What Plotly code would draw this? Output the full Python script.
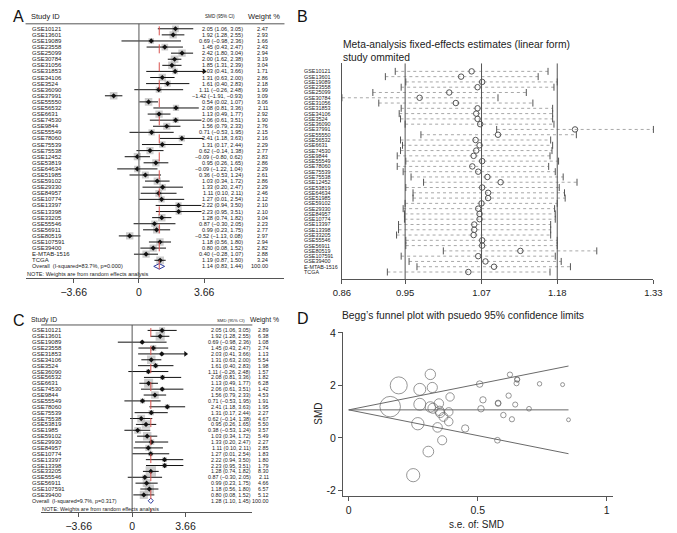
import plotly.graph_objects as go
import math

W, H = 677, 533
FONT = "Liberation Sans, Arial, sans-serif"
TXT = "#222222"

# ---------------- Panel A: random-effects forest plot (39 studies) ----------------
a_studies = ["GSE10121", "GSE13601", "GSE19089", "GSE23558", "GSE25099", "GSE30784", "GSE31056",
             "GSE31853", "GSE34106", "GSE3524", "GSE36090", "GSE37991", "GSE55550", "GSE56532",
             "GSE6631", "GSE74530", "GSE9844", "GSE55549", "GSE78060", "GSE75539", "GSE75538",
             "GSE12452", "GSE53819", "GSE64634", "GSE51985", "GSE59102", "GSE29330", "GSE84957",
             "GSE10774", "GSE13397", "GSE13398", "GSE33205", "GSE55546", "GSE56911", "GSE80519",
             "GSE107591", "GSE39400", "E-MTAB-1516", "TCGA"]
a_smd = [2.05, 1.92, 0.69, 1.45, 2.42, 2.00, 1.85, 2.03, 1.31, 1.61, 1.11, -1.42, 0.54, 2.08,
         1.13, 2.06, 1.56, 0.71, 2.41, 1.31, 0.62, -0.09, 0.95, -0.09, 0.36, 1.03, 1.33, 1.11,
         1.27, 2.22, 2.23, 1.28, 0.87, 0.99, -0.52, 1.18, 0.80, 0.40, 1.19]
a_lo = [1.06, 1.28, -0.98, 0.43, 1.80, 1.62, 1.31, 0.41, 0.63, 0.40, -0.26, -1.91, 0.02, 0.81,
        0.49, 0.61, 0.79, -0.53, 1.18, 0.17, -0.14, -0.80, 0.26, -1.22, -0.53, 0.34, 0.20, 0.10,
        0.01, 0.94, 0.95, 0.74, -0.30, 0.23, -1.13, 0.56, 0.08, -0.28, 0.87]
a_hi = [3.05, 2.55, 2.36, 2.47, 3.04, 2.38, 2.39, 3.66, 2.00, 2.83, 2.48, -0.93, 1.07, 3.36,
        1.77, 3.51, 2.33, 1.95, 3.63, 2.44, 1.38, 0.62, 1.65, 1.04, 1.24, 1.72, 2.47, 2.11,
        2.54, 3.50, 3.51, 1.82, 2.05, 1.75, 0.08, 1.80, 1.52, 1.07, 1.50]
a_wt = [2.47, 2.93, 1.66, 2.43, 2.94, 3.19, 3.04, 1.71, 2.86, 2.18, 1.99, 3.09, 3.06, 2.11,
        2.92, 1.90, 2.76, 2.15, 2.16, 2.29, 2.77, 2.83, 2.86, 2.29, 2.61, 2.86, 2.29, 2.46,
        2.12, 2.10, 2.10, 3.04, 2.23, 2.77, 2.97, 2.94, 2.82, 2.88, 3.24]
a_overall = [1.14, 0.83, 1.44]
a_overall_label = "Overall  (I-squared=83.7%, p=0.000)"

# ---------------- Panel B: influence analysis (study omitted) ----------------
b_est = [1.053, 1.037, 1.069, 1.062, 1.019, 0.974, 1.029, 1.062, 1.060, 1.062, 1.066, 1.210, 1.093,
         1.059, 1.065, 1.060, 1.056, 1.069, 1.054, 1.063, 1.077, 1.097, 1.069, 1.078, 1.078, 1.068,
         1.063, 1.065, 1.065, 1.057, 1.057, 1.056, 1.069, 1.069, 1.127, 1.063, 1.074, 1.087, 1.048]
b_lo = [0.937, 0.922, 0.953, 0.946, 0.903, 0.856, 0.912, 0.946, 0.943, 0.945, 0.952, 1.091, 0.976,
        0.945, 0.948, 0.945, 0.940, 0.953, 0.940, 0.949, 0.961, 0.980, 0.953, 0.964, 0.964, 0.952,
        0.949, 0.951, 0.951, 0.942, 0.942, 0.939, 0.953, 0.953, 1.010, 0.946, 0.958, 0.970, 0.925]
b_hi = [1.169, 1.154, 1.183, 1.178, 1.136, 1.093, 1.146, 1.176, 1.176, 1.176, 1.178, 1.329, 1.212,
        1.173, 1.176, 1.175, 1.172, 1.185, 1.170, 1.180, 1.192, 1.213, 1.186, 1.194, 1.195, 1.183,
        1.179, 1.180, 1.180, 1.173, 1.173, 1.173, 1.183, 1.183, 1.243, 1.180, 1.189, 1.203, 1.172]
b_fixed = [1.068, 0.952, 1.183]   # pooled fixed-effect estimate, lower, upper
b_title = "Meta-analysis fixed-effects estimates (linear form)<br>study ommited"

# ---------------- Panel C: forest plot after exclusions (29 studies) ----------------
c_studies = ["GSE10121", "GSE13601", "GSE19089", "GSE23558", "GSE31853", "GSE34106", "GSE3524",
             "GSE36090", "GSE56532", "GSE6631", "GSE74530", "GSE9844", "GSE55549", "GSE78060",
             "GSE75539", "GSE75538", "GSE53819", "GSE1985", "GSE59102", "GSE29930", "GSE84957",
             "GSE10774", "GSE13397", "GSE13398", "GSE33205", "GSE55546", "GSE56911", "GSE107591",
             "GSE39400"]
c_smd = [2.05, 1.92, 0.69, 1.45, 2.03, 1.31, 1.61, 1.11, 2.08, 1.13, 2.06, 1.56, 0.71, 2.41, 1.31,
         0.62, 0.95, 0.38, 1.03, 1.33, 1.11, 1.27, 2.22, 2.23, 1.28, 0.87, 0.99, 1.18, 0.80]
c_lo = [1.06, 1.28, -0.98, 0.43, 0.41, 0.63, 0.40, -0.26, 0.81, 0.49, 0.61, 0.79, -0.53, 1.18, 0.17,
        -0.14, 0.26, -0.53, 0.34, 0.20, 0.10, 0.01, 0.94, 0.95, 0.74, -0.30, 0.23, 0.56, 0.08]
c_hi = [3.05, 2.55, 2.36, 2.47, 3.66, 2.00, 2.83, 2.48, 3.36, 1.77, 3.51, 2.33, 1.95, 3.63, 2.44,
        1.38, 1.65, 1.24, 1.72, 2.47, 2.11, 2.54, 3.50, 3.51, 1.82, 2.05, 1.75, 1.80, 1.52]
c_wt = [2.89, 6.38, 1.08, 2.74, 1.13, 5.54, 1.98, 1.57, 1.82, 6.28, 1.42, 4.53, 1.91, 1.95, 2.27,
        4.67, 5.50, 3.57, 5.49, 2.27, 2.85, 1.83, 1.80, 1.79, 8.30, 2.11, 4.66, 6.57, 5.12]
c_overall = [1.28, 1.10, 1.45]
c_overall_label = "Overall  (I-squared=9.7%, p=0.317)"

note_text = "NOTE: Weights are from random effects analysis"

# ---------------- Panel D: Begg's funnel ----------------
d_title = "Begg\u2019s funnel plot with psuedo 95% confidence limits"
d_xticks = [0, 0.5, 1]
d_yticks = [-2, 0, 2, 4]

fig = go.Figure()
annotations = []
shapes = []


def xp(p):
    return p / W


def yp(p):
    return 1 - p / H


def ann(text, x, y, size, xanchor="left", yanchor="middle", xref="paper", yref="paper",
        color=TXT, angle=0):
    annotations.append(dict(text=text, x=x, y=y, xref=xref, yref=yref, xanchor=xanchor,
                            yanchor=yanchor, showarrow=False, textangle=angle, borderpad=0,
                            font=dict(size=size, color=color, family=FONT)))


def fmt(v):
    s = f"{v:.2f}"
    return s.replace("-", "\u2212")


def forest(ax, ay, studies, est, lo, hi, wt, overall, ov_label, g):
    xa, ya = ("x" + ax if ax else "x"), ("y" + ay if ay else "y")
    n = len(studies)
    rows = list(range(n))
    tmax = max(max(hi), -min(lo))
    # boxes
    fig.add_trace(go.Scatter(x=est, y=rows, mode="markers", xaxis=xa, yaxis=ya,
                             marker=dict(symbol="square", size=[g["box"] * math.sqrt(w) for w in wt],
                                         color="#b8b8b8", line=dict(width=0)),
                             hoverinfo="skip"))
    # CI lines
    lx, ly = [], []
    for r, l, h in zip(rows, lo, hi):
        lx += [max(l, -tmax), min(h, tmax), None]
        ly += [r, r, None]
    fig.add_trace(go.Scatter(x=lx, y=ly, mode="lines", xaxis=xa, yaxis=ya,
                             line=dict(color="#111111", width=1), hoverinfo="skip"))
    # arrows for truncated CIs
    ar = [(tmax, r) for r, h in zip(rows, hi) if h >= tmax]
    if ar:
        fig.add_trace(go.Scatter(x=[a[0] for a in ar], y=[a[1] for a in ar], mode="markers",
                                 xaxis=xa, yaxis=ya, cliponaxis=False,
                                 marker=dict(symbol="triangle-right", size=5, color="#111111"),
                                 hoverinfo="skip"))
    # point estimates
    fig.add_trace(go.Scatter(x=est, y=rows, mode="markers", xaxis=xa, yaxis=ya,
                             marker=dict(symbol="diamond", size=4, color="#111111"),
                             hoverinfo="skip"))
    # overall diamond
    oe, ol, oh = overall
    fig.add_trace(go.Scatter(x=[ol, oe, oh, oe, ol], y=[n, n - 0.45, n, n + 0.45, n],
                             mode="lines", fill="toself", fillcolor="white", xaxis=xa, yaxis=ya,
                             line=dict(color="#2b3a9e", width=1), hoverinfo="skip"))
    # reference lines
    shapes.append(dict(type="line", xref=xa, yref=ya + " domain", x0=0, x1=0, y0=0, y1=1,
                       line=dict(color="#555555", width=1)))
    shapes.append(dict(type="line", xref=xa, yref=ya, x0=oe, x1=oe, y0=-0.4, y1=g["rbot"],
                       line=dict(color="#d9534f", width=1, dash="dash")))
    # header line
    shapes.append(dict(type="line", xref="paper", yref="paper", x0=xp(g["left"]), x1=xp(g["right"]),
                       y0=yp(g["top"]), y1=yp(g["top"]), line=dict(color="#555555", width=1)))
    # texts
    for r in rows:
        ann(studies[r], xp(g["lab_x"]), r, g["fs"], yref=ya)
        ann(f"{fmt(est[r])} ({fmt(lo[r])}, {fmt(hi[r])})", xp(g["ci_x"]), r, g["fs2"], "right", yref=ya)
        ann(f"{wt[r]:.2f}", xp(g["wt_x"]), r, g["fs2"], "right", yref=ya)
    ann(ov_label, xp(g["lab_x"]), n, g["fs2"], yref=ya)
    ann(f"{fmt(oe)} ({fmt(ol)}, {fmt(oh)})", xp(g["ci_x"]), n, g["fs2"], "right", yref=ya)
    ann(f"{100:.2f}", xp(g["wt_x"]), n, g["fs2"], "right", yref=ya)
    ann(note_text, xp(g["note_x"]), n + g["note_dr"], g["fs2"], yref=ya)
    # headers
    ann(g["letter"], xp(g["letter_x"]), yp(g["head_y"]), 16, color="#111111")
    ann("Study ID", xp(g["lab_x"] - 1), yp(g["head_y"]), g["hfs"])
    ann("SMD (95% CI)", xp(g["smd_hx"]), yp(g["head_y"]), g["hfs_small"], "center")
    ann("Weight %", xp(g["wt_hx"]), yp(g["head_y"]), g["hfs"], "center")
    return tmax


# geometry (pixels)
gA = dict(zero=133.5, ppu=18.3, left=17, right=283, top=19, bot=276, row0=24, rowh=6.15,
          lab_x=23, ci_x=241, wt_x=267.5, note_x=17, note_dr=1.3, fs=6, fs2=5.6, hfs=7.5,
          hfs_small=4.6, smd_hx=217, wt_hx=262, head_y=12, letter="A", letter_x=3, box=4.3)
gC = dict(zero=126.5, ppu=15.0, left=33, right=250, top=323, bot=512, row0=328.5, rowh=5.93,
          lab_x=23, ci_x=250, wt_x=268, note_x=33, note_dr=1.35, fs=6, fs2=5.4, hfs=6.8,
          hfs_small=4.3, smd_hx=228, wt_hx=262, head_y=318, letter="C", letter_x=3, box=3.6)
for g in (gA, gC):
    g["rbot"] = (g["bot"] - g["row0"]) / g["rowh"]
    g["rtop"] = (g["top"] - g["row0"]) / g["rowh"]

tA = forest("", "", a_studies, a_smd, a_lo, a_hi, a_wt, a_overall, a_overall_label, gA)
tC = forest("3", "3", c_studies, c_smd, c_lo, c_hi, c_wt, c_overall, c_overall_label, gC)


def forest_axes(g, t):
    xax = dict(domain=[xp(g["left"]), xp(g["right"])],
               range=[(g["left"] - g["zero"]) / g["ppu"], (g["right"] - g["zero"]) / g["ppu"]],
               showline=True, linecolor="#555555", linewidth=1, ticks="outside", ticklen=4,
               tickcolor="#555555", tickvals=[-t, 0, t], ticktext=[fmt(-t), "0", fmt(t)],
               tickfont=dict(size=10.5, color=TXT, family=FONT), showgrid=False, zeroline=False,
               fixedrange=True)
    yax = dict(domain=[yp(g["bot"]), yp(g["top"])], range=[g["rbot"], g["rtop"]], visible=False,
               showgrid=False, zeroline=False, fixedrange=True)
    return xax, yax


xA, yA = forest_axes(gA, tA)
xC, yC = forest_axes(gC, tC)
xA["anchor"] = "y"
yA["anchor"] = "x"
xC["anchor"] = "y3"
yC["anchor"] = "x3"

# ---------------- Panel B drawing ----------------
B_LEFT, B_RIGHT, B_TOP, B_BOT, B_ROW0, B_ROWH = 342, 662, 59, 277, 67, 5.33
nb = len(b_est)
b_rows = list(range(nb))
b_rbot = (B_BOT - B_ROW0) / B_ROWH
b_rtop = (B_TOP - B_ROW0) / B_ROWH
wx, wy = [], []
for r, l, h in zip(b_rows, b_lo, b_hi):
    wx += [l, h, None]
    wy += [r, r, None]
fig.add_trace(go.Scatter(x=wx, y=wy, mode="lines", xaxis="x2", yaxis="y2", cliponaxis=False,
                         line=dict(color="#a8a8a8", width=1, dash="dot"), hoverinfo="skip"))
fig.add_trace(go.Scatter(x=b_lo + b_hi, y=b_rows + b_rows, mode="markers", xaxis="x2", yaxis="y2",
                         cliponaxis=False,
                         marker=dict(symbol="line-ns", size=5, line=dict(color="#555555", width=1)),
                         hoverinfo="skip"))
fig.add_trace(go.Scatter(x=b_est, y=b_rows, mode="markers", xaxis="x2", yaxis="y2", cliponaxis=False,
                         marker=dict(symbol="circle-open", size=5.5, color="#555555",
                                     line=dict(width=1)), hoverinfo="skip"))
for v in b_fixed:
    shapes.append(dict(type="line", xref="x2", yref="y2 domain", x0=v, x1=v, y0=0, y1=1,
                       line=dict(color="#555555", width=1)))
b_ticks = [min(b_lo), b_fixed[1], b_fixed[0], b_fixed[2], max(b_hi)]
xB = dict(domain=[xp(B_LEFT), xp(B_RIGHT)], range=[min(b_lo), max(b_hi)], anchor="y2",
          showline=True, linecolor="#555555", linewidth=1, ticks="outside", ticklen=4,
          tickcolor="#555555", tickvals=b_ticks, ticktext=[f"{v:.2f}" for v in b_ticks],
          tickfont=dict(size=9.5, color=TXT, family=FONT), showgrid=False, zeroline=False,
          fixedrange=True)
yB = dict(domain=[yp(B_BOT), yp(B_TOP)], range=[b_rbot, b_rtop], anchor="x2", showline=True,
          linecolor="#555555", linewidth=1, showticklabels=False, ticks="", showgrid=False,
          zeroline=False, fixedrange=True)
ann("B", xp(295), yp(12), 16, color="#111111")
ann(b_title, xp(342), yp(33), 10.3, yanchor="top")
annotations[-1]["align"] = "left"
for r, s in zip(b_rows, a_studies):
    ann(s, xp(302), r, 5.4, yref="y2")

# ---------------- Panel D drawing ----------------
D_LEFT, D_RIGHT, D_TOP, D_BOT = 343, 620, 330, 496
D_X0, D_XPPU, D_Y0, D_YPPU = 349, 265, 437, 26.5
d_se = [(h - l) / 3.92 for l, h in zip(a_lo, a_hi)]
pooled = b_fixed[0]
se_max = max(d_se)
fig.add_trace(go.Scatter(x=[0, se_max, None, 0, se_max, None, 0, se_max],
                         y=[pooled, pooled + 1.96 * se_max, None, pooled, pooled - 1.96 * se_max,
                            None, pooled, pooled],
                         mode="lines", xaxis="x4", yaxis="y4", line=dict(color="#6a6a6a", width=1),
                         hoverinfo="skip"))
fig.add_trace(go.Scatter(x=d_se, y=a_smd, mode="markers", xaxis="x4", yaxis="y4", cliponaxis=False,
                         marker=dict(symbol="circle-open", size=[3.3 / s for s in d_se],
                                     color="#6a6a6a", line=dict(width=1)), hoverinfo="skip"))
xD = dict(domain=[xp(D_LEFT), xp(D_RIGHT)],
          range=[(D_LEFT - D_X0) / D_XPPU, (D_RIGHT - D_X0) / D_XPPU], anchor="y4",
          showline=True, linecolor="#555555", linewidth=1, ticks="outside", ticklen=4,
          tickcolor="#555555", tickvals=d_xticks, ticktext=[f"{v:g}" for v in d_xticks],
          tickfont=dict(size=10.5, color=TXT, family=FONT), showgrid=False, zeroline=False,
          fixedrange=True)
yD = dict(domain=[yp(D_BOT), yp(D_TOP)],
          range=[(D_Y0 - D_BOT) / D_YPPU, (D_Y0 - D_TOP) / D_YPPU], anchor="x4",
          showline=True, linecolor="#555555", linewidth=1, ticks="outside", ticklen=4,
          tickcolor="#555555", tickvals=d_yticks, ticktext=[f"{v:g}" for v in d_yticks],
          tickfont=dict(size=10.5, color=TXT, family=FONT), showgrid=False, zeroline=False,
          fixedrange=True)
ann("D", xp(295), yp(316), 16, color="#111111")
ann(d_title, xp(341), yp(313), 10.3)
ann("SMD", xp(318), yp(413), 10, "center", angle=-90)
ann("s.e. of: SMD", xp(480), yp(524), 10, "center")

fig.update_layout(
    width=W, height=H, margin=dict(l=0, r=0, t=0, b=0), autosize=False,
    paper_bgcolor="white", plot_bgcolor="rgba(0,0,0,0)", showlegend=False,
    font=dict(family=FONT, color=TXT),
    xaxis=xA, yaxis=yA, xaxis3=xC, yaxis3=yC, xaxis2=xB, yaxis2=yB, xaxis4=xD, yaxis4=yD,
    annotations=annotations, shapes=shapes,
)
fig.write_html("out.html", config={"displayModeBar": False},
               post_script="document.body.style.margin='0px';document.body.style.overflow='hidden';")
